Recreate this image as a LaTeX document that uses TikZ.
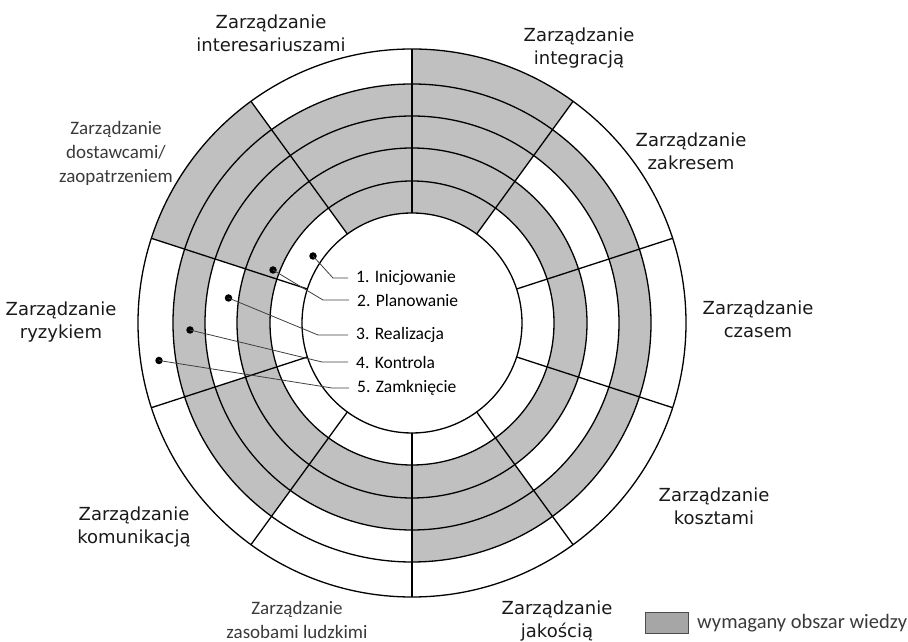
\documentclass[tikz,border=0pt]{standalone}
\usepackage{fontspec}
\newfontfamily\djv{DejaVu Sans}
\newfontfamily\crl{Carlito}
\definecolor{cellgray}{HTML}{C0C0C0}
\definecolor{leggray}{HTML}{A6A6A6}
\definecolor{txtgray}{HTML}{3A3A3A}
\begin{document}
\begin{tikzpicture}[x=1pt,y=1pt,
  area/.style={font=\djv\fontsize{18}{23}\selectfont, align=center, text=black!90, inner sep=0pt},
  areagray/.style={font=\crl\fontsize{19}{24}\selectfont, align=center, text=txtgray, inner sep=0pt},
  proc/.style={font=\crl\fontsize{17.5}{20}\selectfont, anchor=west, inner sep=0pt, text=black},
  dotmark/.style={circle, fill=black, inner sep=0pt, minimum size=7.5pt},
  leader/.style={draw=black!75, line width=0.8pt},
  ringline/.style={line width=1.3pt},
]
\useasboundingbox (0,0) rectangle (908,642);
\coordinate (c) at (412,319);
\begin{scope}[shift={(c)}]
  \foreach \a/\ri/\ro in {54/110/274, 90/110/239, 126/142/274, 162/142/175, 162/207/239,
      198/142/239, 234/142/207, 270/142/239, 306/142/175, 306/207/239,
      342/142/175, 342/207/239, 18/142/175, 18/207/239}{
    \fill[cellgray] (\a:\ri) arc[start angle=\a, delta angle=36, radius=\ri]
      -- ({\a+36}:\ro) arc[start angle={\a+36}, delta angle=-36, radius=\ro] -- cycle;
  }
  \foreach \r in {110,142,175,207,239,274}{
    \draw[ringline] (0,0) circle[radius=\r];
  }
  \foreach \a in {18,54,...,342}{
    \draw[ringline] (\a:110) -- (\a:274);
  }
\end{scope}

% area labels
\node[area] (interes) at (271,608.5) {Zarządzanie\\interesariuszami};
\node[area] (integr) at (579,593.5) {Zarządzanie\\integracją};
\node[area] (zakres) at (691,491) {Zarządzanie\\zakresem};
\node[area] (czas) at (758,323) {Zarządzanie\\czasem};
\node[area] (koszt) at (714,136) {Zarządzanie\\kosztami};
\node[area] (jakosc) at (557,21) {Zarządzanie\\jakością};
\node[areagray] (zasoby) at (297,22) {Zarządzanie\\zasobami ludzkimi};
\node[area] (komun) at (134,115) {Zarządzanie\\komunikacją};
\node[area] (ryzyko) at (61,320) {Zarządzanie\\ryzykiem};
\node[areagray] (dostaw) at (116,489) {Zarządzanie\\dostawcami/\\zaopatrzeniem};

% process markers
\node[dotmark] (d1) at (313,386) {};
\node[dotmark] (d2) at (273,372) {};
\node[dotmark] (d3) at (228.5,344) {};
\node[dotmark] (d4) at (190,312) {};
\node[dotmark] (d5) at (159,281.5) {};
\coordinate (b1) at (333,364);
\coordinate (b2) at (323,342);
\coordinate (b3) at (318,307);
\coordinate (b4) at (322,280);
\coordinate (b5) at (332,254);
\node[proc] (p1) at (356,364) {1. Inicjowanie};
\node[proc] (p2) at (357,342) {2. Planowanie};
\node[proc] (p3) at (356,307) {3. Realizacja};
\node[proc] (p4) at (356,280) {4. Kontrola};
\node[proc] (p5) at (357,254) {5. Zamknięcie};
\foreach \i in {1,...,5}{
  \draw[leader] (d\i.center) -- (b\i) -- ([xshift=-8pt]p\i.west);
}

% legend
\node[draw=black!70, fill=leggray, line width=0.8pt, minimum width=43pt, minimum height=21pt, inner sep=0pt] (lgbox) at (666.5,19) {};
\node[font=\crl\fontsize{20.5}{22}\selectfont, text=txtgray, anchor=west, inner sep=0pt] (lgtext) at (697,19) {wymagany obszar wiedzy};
\end{tikzpicture}
\end{document}
